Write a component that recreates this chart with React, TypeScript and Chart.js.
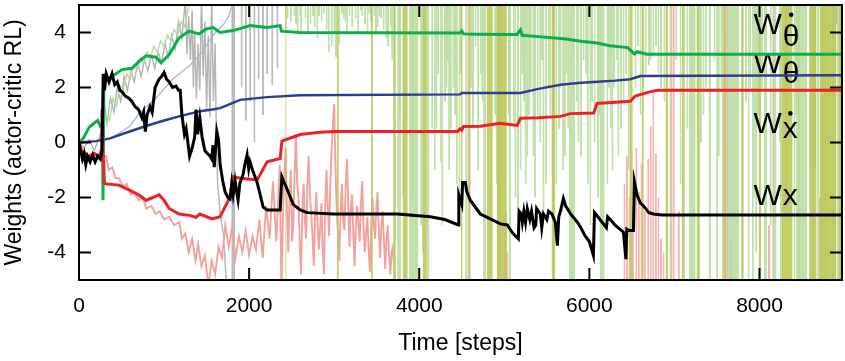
import React, { useEffect, useRef } from 'react';
import { Chart, registerables } from 'chart.js';
Chart.register(...registerables);

const FONT = 'Arial, "Liberation Sans", Helvetica, sans-serif';

// axes
const X_TICKS = [0, 2000, 4000, 6000, 8000];
const Y_TICKS = [-4, -2, 0, 2, 4];
const X_MAX = 8970;
const Y_MIN = -5;
const Y_MAX = 5;

// main weights: [step, value]
const wX: [number, number][] = [
  [0, 0], [20, -0.3], [40, -0.6], [60, -0.4], [80, -0.8], [100, -0.5], [130, -0.7], [160, -0.45], [190, -0.7], [220, -0.5], [250, -0.6], [270, -0.3],
  [285, 2.5], [300, 1.9], [320, 2.5], [353, 2.2], [388, 2.5], [420, 2.1], [450, 2.2], [480, 1.9], [506, 1.85], [540, 1.7], [588, 1.6], [620, 1.5],
  [660, 1.3], [700, 1.2], [740, 0.9], [760, 1.1], [780, 0.4], [800, 1.0], [835, 1.3], [860, 1.1], [895, 2.0], [940, 2.3], [970, 2.4], [1000, 2.55],
  [1030, 2.3], [1060, 2.2], [1100, 2.0], [1141, 2.05], [1170, 1.9], [1190, 1.9], [1210, 1.0], [1240, 0.3], [1260, 0.5], [1300, -0.5], [1330, -0.2],
  [1360, 0.2], [1376, 1.2], [1395, 0.3], [1420, 0.9], [1447, 0.2], [1480, -0.3], [1510, -0.4], [1541, -0.5], [1560, -0.6], [1575, -0.1], [1590, -0.9],
  [1620, 0.4], [1640, 0.1], [1659, -0.8], [1690, -1.4], [1718, -1.8], [1750, -2.0], [1776, -2.05], [1795, -1.5], [1812, -1.9], [1835, -1.4],
  [1859, -1.9], [1870, -2.1], [1890, -1.5], [1930, -1.15], [1950, -0.8], [1976, -0.45], [1995, -0.95], [2010, -0.7], [2040, -1.0], [2094, -1.45],
  [2130, -1.9], [2165, -2.35], [2212, -2.45], [2365, -2.45], [2385, -1.25], [2447, -1.7], [2518, -2.25], [2600, -2.45], [2682, -2.55], [2990, -2.6],
  [3740, -2.6], [4130, -2.7], [4300, -2.8], [4459, -3.0], [4465, -1.9], [4500, -2.25], [4510, -1.45], [4541, -1.45], [4560, -1.8], [4600, -2.1],
  [4718, -2.6], [4835, -2.78], [4953, -2.96], [5035, -3.0], [5100, -3.3], [5165, -3.5], [5175, -2.5], [5200, -2.6], [5212, -2.9], [5230, -2.5],
  [5250, -2.9], [5270, -2.4], [5300, -2.8], [5320, -2.5], [5350, -3.1], [5370, -3.0], [5380, -2.4], [5424, -2.6], [5440, -3.1], [5460, -2.6],
  [5500, -2.8], [5520, -2.5], [5560, -2.6], [5600, -2.9], [5624, -3.75], [5640, -2.7], [5660, -2.5], [5694, -2.04], [5720, -2.3], [5780, -2.6],
  [5859, -2.9], [5900, -3.1], [5950, -3.4], [6000, -3.6], [6047, -4.1], [6060, -2.55], [6100, -2.7], [6150, -2.9], [6200, -3.1], [6215, -2.7],
  [6247, -2.8], [6300, -3.0], [6400, -3.26], [6430, -4.24], [6440, -3.15], [6470, -3.2], [6518, -3.2], [6530, -1.43], [6560, -1.9], [6600, -2.2],
  [6635, -2.3], [6700, -2.55], [6753, -2.6], [6850, -2.64], [9000, -2.64],
];
const wXDot: [number, number][] = [
  [0, 0], [30, -0.3], [118, -0.5], [180, -0.4], [235, -0.5], [262, -0.3], [270, 1.2], [280, -0.2], [300, -1.5], [470, -1.55], [588, -1.72],
  [700, -1.9], [788, -2.1], [870, -2.0], [941, -1.9], [1000, -2.1], [1060, -2.4], [1176, -2.6], [1300, -2.65], [1376, -2.72], [1420, -2.6],
  [1565, -2.78], [1659, -2.7], [1776, -1.98], [1812, -1.25], [1900, -1.3], [2094, -1.36], [2212, -0.7], [2365, -0.58], [2385, 0.05], [2600, 0.29],
  [2835, 0.37], [3000, 0.4], [4450, 0.4], [4480, 0.5], [4500, 0.45], [4520, 0.58], [4720, 0.59], [4950, 0.7], [5150, 0.62], [5190, 0.88],
  [5400, 0.9], [5660, 0.95], [5780, 1.05], [6050, 1.07], [6090, 1.42], [6480, 1.5], [6540, 1.69], [6720, 1.85], [6800, 1.9], [9000, 1.9],
];
const wThetaDot: [number, number][] = [
  [0, 0], [50, 0.15], [118, 0.55], [176, 0.7], [220, 0.8], [250, 0.6], [275, 0.7], [282, -2.1], [292, 2.2], [388, 2.4], [506, 2.65], [623, 2.7],
  [706, 2.95], [788, 3.15], [906, 3.1], [965, 2.9], [1060, 3.2], [1176, 3.8], [1294, 4.05], [1412, 3.95], [1494, 4.13], [1576, 4.18], [1659, 4.0],
  [1812, 4.07], [2012, 4.25], [2212, 4.18], [2365, 4.25], [2380, 4.05], [2600, 4.0], [4480, 3.98], [4500, 4.05], [4520, 3.95], [4720, 3.94],
  [5150, 3.93], [5190, 4.1], [5210, 3.9], [5400, 3.85], [5700, 3.77], [5900, 3.68], [6090, 3.62], [6240, 3.52], [6450, 3.45], [6530, 3.22],
  [6560, 3.3], [6680, 3.21], [9000, 3.21],
];
const wTheta: [number, number][] = [
  [0, 0], [200, 0.05], [365, 0.15], [500, 0.3], [788, 0.6], [1000, 0.8], [1176, 0.95], [1424, 1.14], [1565, 1.2], [1659, 1.25], [1894, 1.55],
  [2212, 1.65], [2600, 1.72], [4480, 1.75], [4500, 1.8], [5190, 1.8], [5400, 1.95], [5660, 2.1], [5900, 2.17], [6050, 2.2], [6300, 2.25],
  [6480, 2.3], [6600, 2.42], [9000, 2.45],
];

// faint (raw) traces: [step, value]
const rawThetaDot: [number, number][] = [
  [280, 0.5], [320, 1.0], [360, 0.8], [400, 1.6], [440, 1.3], [480, 2.1], [520, 1.9], [560, 2.5], [600, 2.3], [640, 2.8], [680, 2.6], [720, 3.1],
  [760, 2.9], [800, 3.3], [840, 3.1], [880, 3.5], [920, 3.3], [960, 3.7], [1000, 3.5], [1040, 3.9], [1080, 3.7], [1120, 4.1], [1160, 3.9],
  [1200, 4.4], [1240, 4.2], [1280, 4.8], [1310, 5.3],
];
const rawXDot: [number, number][] = [
  [280, -0.5], [320, -0.5], [350, -1.0], [390, -0.9], [430, -1.3], [470, -1.3], [520, -1.6], [560, -1.5], [610, -1.9], [650, -1.8], [700, -2.1],
  [750, -2.0], [790, -2.4], [850, -2.3], [900, -2.6], [950, -2.5], [1000, -2.8], [1060, -2.7], [1120, -3.0], [1180, -2.9], [1210, -3.5],
  [1250, -3.3], [1290, -4.0], [1330, -3.5], [1370, -4.3], [1400, -3.7], [1440, -4.5], [1480, -4.1], [1520, -5.2], [1560, -4.3], [1600, -4.8],
  [1640, -3.8], [1680, -4.2], [1720, -3.0], [1760, -3.8], [1800, -3.1], [1840, -4.2], [1880, -3.4], [1920, -4.0], [1960, -3.2], [2000, -4.1],
  [2040, -3.4], [2080, -3.9], [2120, -2.8], [2160, -4.2], [2200, -2.3], [2240, -3.5], [2280, -1.4], [2320, -3.6], [2360, -0.8], [2380, -5.5],
  [2400, -2.5], [2415, -1.0], [2430, -0.2], [2445, -2.5], [2460, -4.0], [2475, -2.0], [2490, -1.0], [2505, -3.6], [2520, -3.0], [2535, -1.2],
  [2550, 0.3], [2565, -1.5], [2580, -2.0], [2595, -3.8], [2610, -4.8], [2625, -2.6], [2640, -1.5], [2655, -2.8], [2670, -3.5], [2685, -1.6],
  [2700, -0.5], [2715, -1.9], [2730, -2.6], [2745, -3.4], [2760, -4.5], [2775, -2.7], [2790, -1.8], [2805, -3.0], [2820, -3.9], [2835, -3.1],
  [2850, -2.2], [2865, -3.9], [2880, -4.8], [2895, -2.2], [2910, -1.0], [2925, -2.4], [2940, -3.4], [2955, -1.5], [2970, -0.2], [2985, 0.6],
  [3000, 1.4], [3015, -0.8], [3030, -2.5], [3045, -3.3], [3060, -4.3], [3075, -2.6], [3090, -1.5], [3105, -2.8], [3120, -3.2], [3135, -1.6],
  [3150, -0.6], [3165, -2.2], [3180, -3.8], [3195, -2.4], [3210, -1.9], [3225, -3.3], [3240, -4.5], [3255, -3.0], [3270, -2.3], [3285, -3.0],
  [3300, -3.6], [3315, -2.2], [3330, -1.4], [3345, -3.1], [3360, -4.0], [3375, -3.3], [3390, -2.7], [3405, -3.9], [3420, -4.7], [3435, -3.1],
  [3450, -2.0], [3465, -2.9], [3480, -3.5], [3495, -2.4], [3510, -1.8], [3525, -3.2], [3540, -4.2], [3555, -3.0], [3570, -2.5], [3585, -3.6],
  [3600, -4.6], [3615, -3.5], [3630, -3.0], [3645, -4.1], [3660, -4.8], [3675, -4.0], [3690, -3.8], [3720, -5.5],
];
const rawX: [number, number][] = [
  [0, 0], [60, -0.2], [120, 0.1], [180, -0.3], [240, 0.2], [280, 0.6], [300, 1.4], [330, 0.7], [370, 1.6], [410, 1.1], [450, 2.0], [490, 1.5],
  [530, 2.4], [570, 1.9], [610, 2.6], [650, 2.2], [690, 2.9], [730, 2.4], [770, 3.0], [810, 2.6], [850, 3.2], [890, 2.7], [930, 3.3], [970, 2.9],
  [1010, 3.6], [1050, 3.1], [1090, 3.9], [1130, 3.4], [1170, 4.4], [1210, 3.8], [1250, 5.2], [1270, 3.2], [1290, 4.6], [1310, 3.0], [1330, 4.8],
  [1345, 2.0], [1360, 4.0], [1380, 1.6], [1400, 3.6], [1420, 1.9], [1440, 5.3], [1460, 2.4], [1480, 4.4], [1500, 1.2], [1520, 3.9], [1540, 0.9],
  [1560, 5.3], [1580, 1.5], [1600, 3.6], [1615, 0.2], [1630, -1.5], [1660, -2.6], [1700, -3.4], [1740, -5.5],
];
const rawTheta: [number, number][] = [
  [250, 0.0], [400, 0.2], [600, 0.6], [718, 1.1], [900, 1.6], [1100, 2.3], [1300, 2.8], [1424, 3.2], [1500, 3.55], [1576, 3.9], [1640, 4.1],
  [1700, 4.3], [1760, 4.6], [1812, 5.1],
];

// stripes where the raw traces swing off-scale: [start step, end step]
const oliveBands: [number, number][] = [
  [2425, 2440], [3030, 3055], [3430, 3455], [3700, 3725], [3805, 3865], [4040, 4090], [4490, 4510], [4585, 4605], [4795, 4865], [4910, 5030],
  [5555, 5595], [6470, 6510], [6615, 6640], [6895, 6925], [7085, 7110], [7260, 7290], [7575, 7605], [7790, 7815], [7990, 8015], [8260, 8390],
  [8590, 8670], [8705, 8905], [8935, 8960],
];
const greenBands: [number, number][] = [
  [3740, 3790], [3880, 3990], [4090, 4120], [4540, 4570], [4750, 4790], [4930, 4960], [5050, 5080], [5760, 5830], [6120, 6180], [7170, 7250],
  [7400, 7430], [7640, 7760], [8050, 8090], [8160, 8200], [8430, 8560], [8670, 8700], [8910, 8970],
];
// [step, lowest value reached] hanging from the top
const greenDips: [number, number][] = [
  [1900, 4.6], [2000, 4.3], [2420, 4.1], [2440, 4.5], [2480, 4.4], [2520, 4.6], [2540, 4.3], [2560, 4.0], [2590, 4.6], [2600, 3.9], [2650, 4.5],
  [2680, 4.0], [2710, 4.3], [2740, 4.6], [2760, 4.2], [2790, 3.8], [2810, 4.6], [2840, 4.4], [2870, 4.7], [2900, 4.1], [2925, 3.3], [2960, 3.5],
  [2990, 4.0], [3010, 3.1], [3050, 3.6], [3080, 4.7], [3100, 4.5], [3120, 4.4], [3140, 3.9], [3170, 4.6], [3200, 4.2], [3240, 4.5], [3270, 4.0],
  [3300, 4.8], [3320, 4.6], [3350, 4.3], [3380, 3.9], [3400, 4.7], [3420, 4.4], [3460, 4.6], [3480, 4.0], [3500, 4.2], [3520, 4.6], [3540, 4.5],
  [3570, 4.1], [3600, 3.8], [3620, 3.5], [3650, 4.2], [3670, 3.0], [3690, -6], [3760, 1.0], [3800, -2], [3910, -2], [4010, -3], [4030, -4],
  [4060, 1.5], [4140, 0.5], [4170, -1], [4190, 0.5], [4210, 2.5], [4240, -0.7], [4260, -3], [4290, 1.5], [4310, 2.0], [4320, 3.0], [4340, -1],
  [4360, 0.5], [4390, 2.0], [4410, 1.0], [4430, -1.5], [4460, -2.5], [4480, 2.5], [4600, 2.0], [4620, 0.5], [4650, 3.5], [4680, -1],
  [4710, 2.5], [4730, 1.5], [4880, 1.0], [4900, -1.5], [5040, 1], [5100, 0.5], [5120, -2], [5150, -3], [5180, -1], [5200, 2.5], [5220, 1.5],
  [5240, -1.5], [5260, -0.5], [5280, 1.0], [5300, 2.0], [5330, -0.5], [5350, -2], [5380, 1.0], [5410, 0], [5430, 3.0], [5450, -2.5],
  [5480, -1.5], [5510, 2.0], [5530, 1.0], [5600, -1.5], [5630, 0.5], [5650, 2.0], [5680, -1], [5700, -0.5], [5720, 2.5], [5740, 0.5],
  [5840, 1.5], [5860, 0], [5890, -0.5], [5920, 3.0], [5950, 2.5], [5970, -1.5], [6000, -3], [6020, 1.5], [6050, 0], [6090, -2], [6110, 1.0],
  [6200, -1.5], [6220, 2.0], [6240, 0.5], [6260, -1.0], [6280, 2.0], [6310, 3.0], [6330, -0.5], [6360, 0.5], [6390, 1.5], [6420, 2.5],
  [6450, -1], [6530, 2.0], [6560, 3.5], [6590, 1.0], [6620, 2.0], [6650, 2.5], [6690, 2.8], [6710, 3.0], [6740, 3.2], [6770, 3.5], [6800, 2.5],
  [6830, 2], [6870, 1.5], [6940, -6], [7010, 3], [7060, -1.5], [7100, -6], [7140, 0.5], [7280, -6], [7300, 0], [7330, 1.0], [7360, 2.0],
  [7460, 3.0], [7490, -6], [7510, -0.5], [7540, 2.0], [7560, -6], [7620, -6], [7780, -6], [7830, 1.5], [7860, -6], [7880, 2], [7910, -6],
  [7930, -2], [7950, -4], [7970, 1], [8000, -6], [8020, 2.0], [8120, -3], [8230, 0], [8240, -6], [8300, -2], [8400, -6], [8420, 1.0],
  [8580, -6], [8620, -6], [8640, -1], [8730, -6], [8760, -6], [8800, -6], [8850, -6], [8880, -6],
];
// [step, highest value reached] rising from the bottom
const pinkRises: [number, number][] = [
  [4570, 6], [4915, 6], [4990, -3], [5010, -2.5], [5025, -4], [5570, 6], [6400, -1.5], [6430, -0.5], [6460, -2], [6500, -1], [6540, -0.2],
  [6570, -1.8], [6600, -0.8], [6640, -2.5], [6680, -0.6], [6710, 0.6], [6740, 1.8], [6770, -0.4], [6800, -2.0], [6830, -3.5], [6860, -4.0],
  [6955, 6], [6980, 6], [7040, -2.5], [7590, 6], [7610, 6], [7650, -3.5], [8100, -3.0], [8150, 6], [8450, 6], [8700, -2],
];
const grayDips: [number, number][] = [
  [1790, -6], [1810, -6], [1900, 2.0], [1950, 0.8], [2000, 1.5], [2050, 0.0], [2100, 2.3], [2150, 1.0], [2200, 2.5], [2260, 2.1], [2320, 2.7],
];
const blueDips: [number, number][] = [[8860, 4.5], [8900, 4.3], [8950, 4.6]];

// curve labels
const labelBase = ['W', 'W', 'W', 'W'];
const labelSub = ['θ', 'θ', 'x', 'x'];
const labelDot = [true, false, true, false];
const labelBaseY = [3.96, 2.53, 0.33, -2.27];
const labelSubY = [3.52, 2.16, 0.15, -2.27];
const LABEL_STEP = 7930;

const STRIPE_W = 24;
const OFF = 6;

const toPts = (a: [number, number][]) => a.map(([x, y]) => ({ x, y }));
const dipPts = (a: [number, number][]) => {
  const out: { x: number; y: number | null }[] = [];
  a.forEach(([t, v]) => out.push({ x: t, y: v }, { x: t + STRIPE_W, y: v }, { x: t + STRIPE_W, y: null }));
  return out;
};
const bandPts = (a: [number, number][]) => {
  const out: { x: number; y: number | null }[] = [];
  a.forEach(([s, e]) => out.push({ x: s, y: OFF }, { x: e, y: OFF }, { x: e, y: null }));
  return out;
};

const framePlugin = {
  id: 'frame',
  afterDraw(chart: any) {
    const { ctx, chartArea, scales } = chart;
    const { left, right, top, bottom } = chartArea;
    ctx.save();
    ctx.strokeStyle = '#000';
    ctx.lineWidth = 2;
    ctx.beginPath();
    ctx.rect(left, top, right - left, bottom - top);
    const len = 12;
    scales.x.ticks.forEach((t: any) => {
      const px = scales.x.getPixelForValue(t.value);
      ctx.moveTo(px, bottom);
      ctx.lineTo(px, bottom - len);
      ctx.moveTo(px, top);
      ctx.lineTo(px, top + len);
    });
    scales.y.ticks.forEach((t: any) => {
      const py = scales.y.getPixelForValue(t.value);
      ctx.moveTo(left, py);
      ctx.lineTo(left + len, py);
      ctx.moveTo(right, py);
      ctx.lineTo(right - len, py);
    });
    ctx.stroke();
    ctx.restore();
  },
};

const labelPlugin = {
  id: 'weightLabels',
  beforeDatasetDraw(chart: any, args: any) {
    const ds = chart.data.datasets[args.index];
    if (!ds.labelsBefore) return;
    const { ctx, scales } = chart;
    ctx.save();
    ctx.fillStyle = '#000';
    ctx.textAlign = 'left';
    ctx.textBaseline = 'alphabetic';
    ctx.font = `30px ${FONT}`;
    labelBase.forEach((b, i) => {
      const px = scales.x.getPixelForValue(LABEL_STEP);
      ctx.fillText(b, px, scales.y.getPixelForValue(labelBaseY[i]));
      const sx = px + ctx.measureText(b).width + 1;
      const sy = scales.y.getPixelForValue(labelSubY[i]);
      ctx.fillText(labelSub[i], sx, sy);
      if (labelDot[i]) {
        const m = ctx.measureText(labelSub[i]);
        ctx.beginPath();
        ctx.arc(sx + m.width / 2, sy - m.actualBoundingBoxAscent - 9, 2.3, 0, Math.PI * 2);
        ctx.fill();
      }
    });
    ctx.restore();
  },
};

export default function App() {
  const ref = useRef<HTMLCanvasElement>(null);
  useEffect(() => {
    if (!ref.current) return;
    const line = (data: any, color: string, width: number, order: number, extra: any = {}) => ({
      type: 'line', data, borderColor: color, borderWidth: width, pointRadius: 0, tension: 0, fill: false, order, ...extra,
    });
    const fillSet = (data: any, color: string, target: number, order: number) => ({
      type: 'line', data, borderColor: 'transparent', borderWidth: 0, backgroundColor: color, pointRadius: 0,
      tension: 0, spanGaps: false, fill: { value: target }, order,
    });
    const chart = new Chart(ref.current, {
      type: 'line',
      data: {
        datasets: [
          line(toPts(wX), '#000000', 3, 0),
          line(toPts(wXDot), '#ec2127', 3, 1),
          line(toPts(wThetaDot), '#0aae4e', 3, 2),
          line(toPts(wTheta), '#2e3a94', 2.5, 3, { labelsBefore: true }),
          fillSet(bandPts(oliveBands), 'rgba(188,200,90,0.9)', -OFF, 10),
          fillSet(bandPts(greenBands), 'rgba(182,219,155,0.85)', -OFF, 11),
          fillSet(dipPts(greenDips), 'rgba(182,219,155,0.85)', OFF, 12),
          line(toPts(rawThetaDot), '#b8dba0', 1.4, 13),
          fillSet(dipPts(pinkRises), 'rgba(244,168,164,0.85)', -OFF, 14),
          line(toPts(rawXDot), '#f2a29d', 1.9, 15),
          fillSet(dipPts(grayDips), 'rgba(175,175,175,0.85)', OFF, 16),
          line(toPts(rawX), '#b3b3b3', 1.4, 17),
          fillSet(dipPts(blueDips), 'rgba(130,170,190,0.8)', OFF, 18),
          line(toPts(rawTheta), '#a6b6e6', 1.3, 19),
        ] as any,
      },
      options: {
        responsive: false,
        animation: false,
        devicePixelRatio: 1,
        layout: { padding: { top: 5, right: 3, left: 0, bottom: 0 } },
        plugins: { legend: { display: false }, tooltip: { enabled: false } },
        scales: {
          x: {
            type: 'linear', min: 0, max: X_MAX,
            afterBuildTicks: (s: any) => { s.ticks = X_TICKS.map((v) => ({ value: v })); },
            afterFit: (s: any) => { s.height = 81; s.paddingLeft = 0; s.paddingRight = 0; },
            grid: { display: false, drawTicks: false },
            border: { display: false },
            ticks: { color: '#000', font: { family: FONT, size: 21 }, padding: 14, maxRotation: 0, autoSkip: false, callback: (v: any) => String(v) },
            title: { display: true, text: 'Time [steps]', color: '#000', font: { family: FONT, size: 23 }, padding: { top: 0, bottom: 4 } },
          },
          y: {
            type: 'linear', min: Y_MIN, max: Y_MAX,
            afterBuildTicks: (s: any) => { s.ticks = Y_TICKS.map((v) => ({ value: v })); },
            afterFit: (s: any) => { s.width = 79; s.paddingTop = 0; s.paddingBottom = 0; },
            grid: { display: false, drawTicks: false },
            border: { display: false },
            ticks: { color: '#000', font: { family: FONT, size: 21 }, padding: 13, autoSkip: false, callback: (v: any) => String(v) },
            title: { display: true, text: 'Weights (actor-critic RL)', color: '#000', font: { family: FONT, size: 23 }, padding: { top: 1, bottom: 0 } },
          },
        },
      } as any,
      plugins: [framePlugin, labelPlugin],
    });
    return () => chart.destroy();
  }, []);
  return (
    <div style={{ position: 'absolute', left: 0, top: 0, width: 845, height: 361, background: '#fff' }}>
      <canvas ref={ref} width={845} height={361} style={{ display: 'block' }} />
    </div>
  );
}
